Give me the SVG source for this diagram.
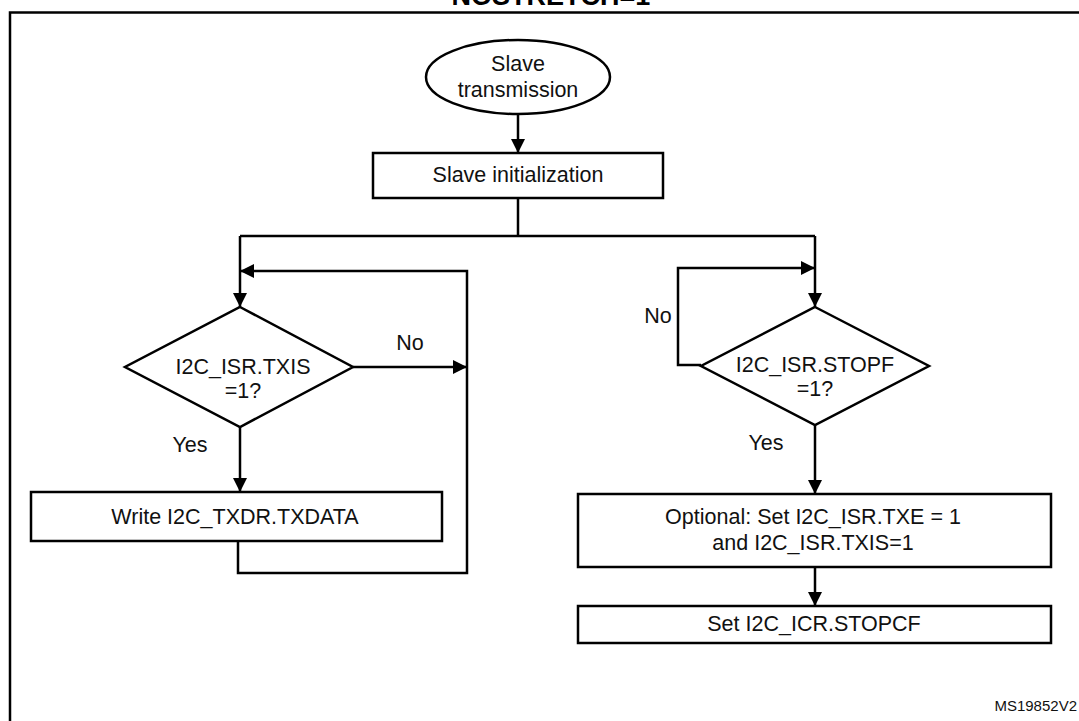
<svg xmlns="http://www.w3.org/2000/svg" width="1079" height="721" viewBox="0 0 1079 721">
<style>
  .shape { fill: #ffffff; stroke: #000000; stroke-width: 2.5; }
  .conn { fill: none; stroke: #000000; stroke-width: 2.5; }
  .t { font-family: "Liberation Sans", Arial, sans-serif; font-size: 21.5px; fill: #111111; text-anchor: middle; }
  .lbl { font-family: "Liberation Sans", Arial, sans-serif; font-size: 21.5px; fill: #111111; text-anchor: middle; }
  .title { font-family: "Liberation Sans", Arial, sans-serif; font-size: 27px; font-weight: bold; fill: #000000; text-anchor: middle; }
  .ref { font-family: "Liberation Sans", Arial, sans-serif; font-size: 15px; fill: #111111; text-anchor: end; }
</style>
<defs>
  <marker id="arrow" markerUnits="userSpaceOnUse" markerWidth="14" markerHeight="14" viewBox="0 0 14 14" refX="14" refY="7" orient="auto">
    <path d="M0,0 L14,7 L0,14 z" fill="#000000"/>
  </marker>
</defs>
<rect width="1079" height="721" fill="#ffffff"/>
<g id="frame">
  <path class="conn" d="M10,730 V12.5 H1090"/>
  <text class="title" x="551" y="4.5">NOSTRETCH=1</text>
</g>
<g id="connectors">
  <path class="conn" d="M518,115 V153" marker-end="url(#arrow)"/>
  <path class="conn" d="M518,198 V236"/>
  <path class="conn" d="M240,236 H815"/>
  <path class="conn" d="M240,236 V307" marker-end="url(#arrow)"/>
  <path class="conn" d="M815,236 V307" marker-end="url(#arrow)"/>
  <path class="conn" d="M353,367 H467" marker-end="url(#arrow)"/>
  <path class="conn" d="M238,541 V573 H467 V271 H240" marker-end="url(#arrow)"/>
  <path class="conn" d="M240,427 V492" marker-end="url(#arrow)"/>
  <path class="conn" d="M701,365 H678 V268 H815" marker-end="url(#arrow)"/>
  <path class="conn" d="M815,425 V494" marker-end="url(#arrow)"/>
  <path class="conn" d="M815,567 V606" marker-end="url(#arrow)"/>
  <text class="lbl" x="410" y="350">No</text>
  <text class="lbl" x="190" y="452">Yes</text>
  <text class="lbl" x="658" y="323">No</text>
  <text class="lbl" x="766" y="450">Yes</text>
</g>
<g id="start">
  <ellipse class="shape" cx="518" cy="77" rx="92" ry="37"/>
  <text class="t" x="518" y="71">Slave</text>
  <text class="t" x="518" y="97">transmission</text>
</g>
<g id="init">
  <rect class="shape" x="373" y="153" width="290" height="45"/>
  <text class="t" x="518" y="182">Slave initialization</text>
</g>
<g id="txis">
  <polygon class="shape" points="240,307 353,367 240,427 125,367"/>
  <text class="t" x="243" y="374">I2C_ISR.TXIS</text>
  <text class="t" x="243" y="398">=1?</text>
</g>
<g id="write">
  <rect class="shape" x="31" y="492" width="411" height="49"/>
  <text class="t" x="235" y="524">Write I2C_TXDR.TXDATA</text>
</g>
<g id="stopf">
  <polygon class="shape" points="815,307 929,366 815,425 701,366"/>
  <text class="t" x="815" y="372">I2C_ISR.STOPF</text>
  <text class="t" x="815" y="396">=1?</text>
</g>
<g id="optional">
  <rect class="shape" x="578" y="494" width="473" height="73"/>
  <text class="t" x="813" y="524">Optional: Set I2C_ISR.TXE = 1</text>
  <text class="t" x="813" y="550">and I2C_ISR.TXIS=1</text>
</g>
<g id="stopcf">
  <rect class="shape" x="578" y="606" width="473" height="37"/>
  <text class="t" x="814" y="631">Set I2C_ICR.STOPCF</text>
</g>
<text class="ref" x="1077" y="711">MS19852V2</text>
</svg>
